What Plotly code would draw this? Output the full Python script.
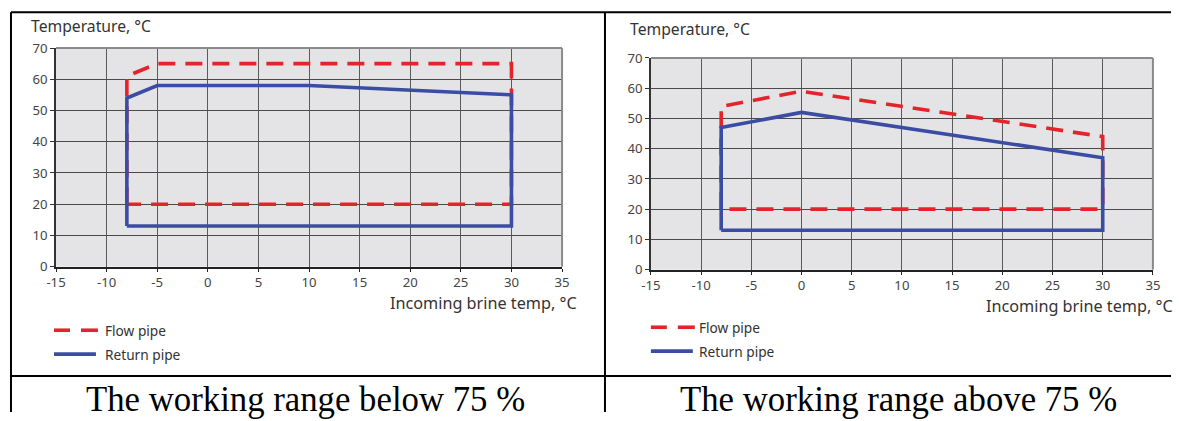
import plotly.graph_objects as go

# ---- data ----
x_ticks = [-15, -10, -5, 0, 5, 10, 15, 20, 25, 30, 35]
y_ticks = [0, 10, 20, 30, 40, 50, 60, 70]

# Working range below 75 %
below_flow_x = [-8, -8, -5, 30, 30, -8]
below_flow_y = [20, 61, 65, 65, 20, 20]
below_return_x = [-8, -8, -5, 10, 30, 30, -8]
below_return_y = [13, 54, 58, 58, 55, 13, 13]

# Working range above 75 %
above_flow_x = [-8, -8, 0, 30, 30, -8]
above_flow_y = [20, 54, 59, 44, 20, 20]
above_return_x = [-8, -8, 0, 30, 30, -8]
above_return_y = [13, 47, 52, 37, 13, 13]

series_names = ["Flow pipe", "Return pipe"]
captions = ["The working range below 75 %", "The working range above 75 %"]
y_title = "Temperature, °C"
x_title = "Incoming brine temp, °C"

RED = "#e3242b"
BLUE = "#3b4ca3"
FONT = "Noto Sans"
TXT = "#333333"

# ---- page geometry ----
# snapshot viewport (css px) incl. the 8px body margin, scaled to the target size
VW, VH = 1195, 437
IMG_W, IMG_H = 1179, 421
MARGIN = 8
W, H = VW - 2 * MARGIN, VH - 2 * MARGIN
SX, SY = VW / IMG_W, VH / IMG_H
FS = 1 / 0.9866  # font compensation


def px(x):
    """target image x -> paper"""
    return (x * SX - MARGIN) / W


def py(y):
    """target image y -> paper"""
    return 1 - (y * SY - MARGIN) / H


fig = go.Figure()

panels = [
    dict(fx=below_flow_x, fy=below_flow_y, rx=below_return_x, ry=below_return_y, xa="x", ya="y"),
    dict(fx=above_flow_x, fy=above_flow_y, rx=above_return_x, ry=above_return_y, xa="x2", ya="y2"),
]

for p in panels:
    fig.add_trace(go.Scatter(
        x=p["fx"], y=p["fy"], mode="lines", name=series_names[0],
        line=dict(color=RED, width=3.6, dash="17px,10px"),
        xaxis=p["xa"], yaxis=p["ya"], showlegend=False, hoverinfo="skip"))
    fig.add_trace(go.Scatter(
        x=p["rx"], y=p["ry"], mode="lines", name=series_names[1],
        line=dict(color=BLUE, width=3.6),
        xaxis=p["xa"], yaxis=p["ya"], showlegend=False, hoverinfo="skip"))

axis_common_x = dict(
    range=[-15, 35], tickvals=x_ticks, ticktext=[str(v) for v in x_ticks],
    showgrid=True, gridcolor="#5a5a5a", gridwidth=1.3,
    zeroline=False, showline=True, linecolor="#222", linewidth=2, mirror=False,
    ticks="outside", ticklen=3, tickcolor="#222",
    tickfont=dict(family=FONT, size=13 * FS, color="#444"), fixedrange=True)
axis_common_y = dict(
    range=[0, 70], tickvals=y_ticks, ticktext=[str(v) for v in y_ticks],
    showgrid=True, gridcolor="#4a4a4a", gridwidth=1.3,
    zeroline=False, showline=True, linecolor="#333", linewidth=1.5, mirror=False,
    ticks="outside", ticklen=4, tickcolor="#333",
    tickfont=dict(family=FONT, size=13 * FS, color="#444"), fixedrange=True)

# plot areas in target pixels
L = dict(x0=54, x1=561, y0=47, y1=267)
R = dict(x0=650, x1=1153, y0=57, y1=270)

fig.update_layout(
    width=W, height=H, margin=dict(l=0, r=0, t=0, b=0),
    paper_bgcolor="white", plot_bgcolor="#e4e4e7",
    xaxis=dict(domain=[px(L["x0"]), px(L["x1"])], anchor="y", **axis_common_x),
    yaxis=dict(domain=[py(L["y1"]), py(L["y0"])], anchor="x", **axis_common_y),
    xaxis2=dict(domain=[px(R["x0"]), px(R["x1"])], anchor="y2", **axis_common_x),
    yaxis2=dict(domain=[py(R["y1"]), py(R["y0"])], anchor="x2", **axis_common_y),
    showlegend=False,
)

shapes = []
# plot frame (top & right gray edges)
for xr, yr in [("x", "y"), ("x2", "y2")]:
    shapes.append(dict(type="line", xref=xr + " domain", yref=yr + " domain",
                       x0=0, x1=1, y0=1, y1=1, line=dict(color="#8a8a8a", width=2)))
    shapes.append(dict(type="line", xref=xr + " domain", yref=yr + " domain",
                       x0=1, x1=1, y0=0, y1=1, line=dict(color="#8a8a8a", width=2)))

# table borders
BL = dict(color="black", width=2)
LEFT = max(px(7), 1 / W)
shapes += [
    dict(type="line", xref="paper", yref="paper", x0=LEFT, x1=1, y0=py(11), y1=py(11), line=BL),
    dict(type="line", xref="paper", yref="paper", x0=LEFT, x1=1, y0=py(377), y1=py(377), line=BL),
    dict(type="line", xref="paper", yref="paper", x0=LEFT, x1=LEFT, y0=0, y1=py(11), line=BL),
    dict(type="line", xref="paper", yref="paper", x0=px(604), x1=px(604), y0=0, y1=py(11), line=BL),
]

# legend keys (drawn by hand to match the original key style)
legend_pos = [dict(x0=52, ty_flow=331, ty_ret=355, tx=101),
              dict(x0=650, ty_flow=328, ty_ret=352, tx=696)]
for lg in legend_pos:
    x0 = lg["x0"]
    for a, b in [(0, 16), (27, 44)]:
        shapes.append(dict(type="line", xref="paper", yref="paper",
                           x0=px(x0 + a), x1=px(x0 + b), y0=py(lg["ty_flow"]), y1=py(lg["ty_flow"]),
                           line=dict(color=RED, width=3.6)))
    shapes.append(dict(type="line", xref="paper", yref="paper",
                       x0=px(x0), x1=px(x0 + 42), y0=py(lg["ty_ret"]), y1=py(lg["ty_ret"]),
                       line=dict(color=BLUE, width=3.6)))
fig.update_layout(shapes=shapes)

ann = []


def text(t, x, y, xanchor, size, family=FONT, color=TXT):
    ann.append(dict(text=t, x=px(x), y=py(y), xref="paper", yref="paper",
                    xanchor=xanchor, yanchor="middle", showarrow=False,
                    font=dict(family=family, size=size * FS, color=color)))


text(y_title, 27, 25, "left", 15.5)
text(y_title, 627, 28, "left", 15.5)
text(x_title, 578, 304, "right", 16)
text(x_title, 1175, 307, "right", 16)
for lg in legend_pos:
    text(series_names[0], lg["tx"], lg["ty_flow"], "left", 13.5)
    text(series_names[1], lg["tx"], lg["ty_ret"], "left", 13.5)
text(captions[0], 304, 401, "center", 34.3, family="Liberation Serif", color="black")
text(captions[1], 898, 401, "center", 34.3, family="Liberation Serif", color="black")
fig.update_layout(annotations=ann)

fig.write_html("out.html")
